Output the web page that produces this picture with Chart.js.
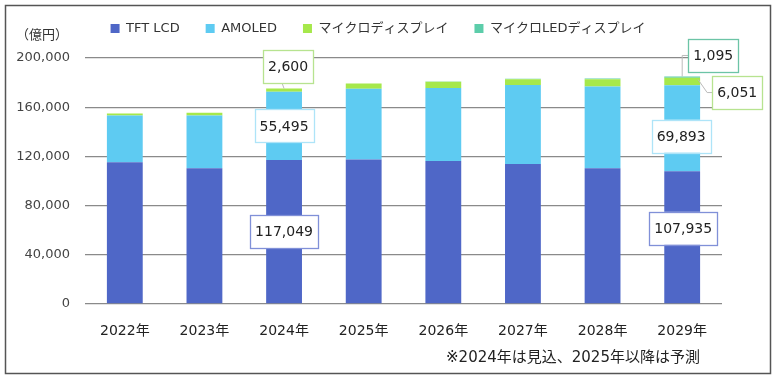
<!DOCTYPE html>
<html>
<head>
<meta charset="utf-8">
<script src="https://cdn.jsdelivr.net/npm/chart.js@4"></script>
<style>
  html, body { margin: 0; padding: 0; background: #fff; }
  #wrap { width: 780px; height: 380px; position: relative; }
</style>
</head>
<body>
<div id="wrap"><canvas id="c" width="780" height="380"></canvas></div>
<script>
const years = ['2022年', '2023年', '2024年', '2025年', '2026年', '2027年', '2028年', '2029年'];
const seriesNames = ['TFT LCD', 'AMOLED', 'マイクロディスプレイ', 'マイクロLEDディスプレイ'];
const tftLcd = [115200, 110400, 117049, 117400, 116300, 113900, 110400, 107935];
const amoled = [38100, 42900, 55495, 57700, 59400, 64200, 66400, 69893];
const microDisplay = [1600, 2100, 2600, 4100, 4900, 4600, 5900, 6051];
const microLed = [0, 0, 0, 100, 200, 400, 700, 1095];
const yTicks = [0, 40000, 80000, 120000, 160000, 200000];
const unitLabel = '（億円）';
const footNote = '※2024年は見込、2025年以降は予測';

const FONT = '"DejaVu Sans", "Noto Sans CJK JP", sans-serif';
const colors = ['#4f67c7', '#5ecbf2', '#a6e84b', '#5ccdaa'];
const labelBorders = ['#8090d8', '#aee4f8', '#b7e390', '#6cc4a6'];

// which segments get a value box: dataset, year index, placement
const callouts = [
  { ds: 0, i: 2, mode: 'mid', dx: 0, dy: 0 },
  { ds: 1, i: 2, mode: 'mid', dx: 0, dy: 0 },
  { ds: 2, i: 2, mode: 'top', dx: 4, dy: -22, leader: 'up' },
  { ds: 0, i: 7, mode: 'mid', dx: 1, dy: -9 },
  { ds: 1, i: 7, mode: 'mid', dx: -1, dy: 8 },
  { ds: 2, i: 7, mode: 'mid', dx: 55, dy: 11, leader: 'side' },
  { ds: 3, i: 7, mode: 'top', dx: 31, dy: -21, leader: 'elbow' }
];

const fmt = v => v.toLocaleString('en-US');

const extras = {
  id: 'extras',
  afterLayout(chart) {
    // nudge legend: centre it over the full frame and lift it a bit
    const lg = chart.legend;
    lg.left += 12; lg.right += 12;
    lg.top -= 13; lg.bottom -= 13;
  },
  beforeDraw(chart) {
    const ctx = chart.ctx;
    ctx.save();
    ctx.fillStyle = '#fff';
    ctx.fillRect(0, 0, chart.width, chart.height);
    ctx.restore();
  },
  afterDraw(chart) {
    const ctx = chart.ctx;
    const data = chart.data.datasets;
    ctx.save();
    // unit label and footnote
    ctx.fillStyle = '#333';
    ctx.font = '13px ' + FONT;
    ctx.textAlign = 'left';
    ctx.textBaseline = 'middle';
    ctx.fillText(unitLabel, 16, 36);
    ctx.font = '15px ' + FONT;
    ctx.fillStyle = '#222';
    ctx.textAlign = 'center';
    ctx.fillText(footNote, 573, 358);

    // value boxes
    ctx.font = '14px ' + FONT;
    callouts.forEach(c => {
      const el = chart.getDatasetMeta(c.ds).data[c.i];
      const v = data[c.ds].data[c.i];
      const txt = fmt(v);
      const w = ctx.measureText(txt).width + 10;
      const h = 33;
      const ay = c.mode === 'mid' ? (el.y + el.base) / 2 : el.y;
      const cx = el.x + c.dx, cy = ay + c.dy;
      const left = cx - w / 2, top = cy - h / 2;
      ctx.strokeStyle = '#bbb';
      ctx.lineWidth = 1;
      if (c.leader === 'up') {
        ctx.beginPath();
        ctx.moveTo(el.x, el.y);
        ctx.lineTo(cx - 6, top + h);
        ctx.stroke();
      } else if (c.leader === 'side') {
        ctx.beginPath();
        ctx.moveTo(el.x + el.width / 2 - 2, ay - 2);
        ctx.lineTo(left - 5, cy);
        ctx.lineTo(left, cy);
        ctx.stroke();
      } else if (c.leader === 'elbow') {
        ctx.beginPath();
        ctx.moveTo(el.x, el.y);
        ctx.lineTo(el.x, cy);
        ctx.lineTo(left, cy);
        ctx.stroke();
      }
      ctx.fillStyle = '#fff';
      ctx.fillRect(left, top, w, h);
      ctx.strokeStyle = labelBorders[c.ds];
      ctx.lineWidth = 1.3;
      ctx.strokeRect(Math.round(left) + 0.5, Math.round(top) + 0.5, Math.round(w), h);
      ctx.fillStyle = '#222';
      ctx.textAlign = 'center';
      ctx.textBaseline = 'middle';
      ctx.fillText(txt, cx, cy + 1);
    });

    // outer frame
    ctx.strokeStyle = '#555';
    ctx.lineWidth = 1.5;
    ctx.strokeRect(5.5, 5.5, 765, 368);
    ctx.restore();
  }
};

const seriesData = [tftLcd, amoled, microDisplay, microLed];

new Chart(document.getElementById('c'), {
  type: 'bar',
  data: {
    labels: years,
    datasets: seriesNames.map((name, k) => ({
      label: name,
      data: seriesData[k],
      backgroundColor: colors[k],
      borderWidth: 0,
      barPercentage: 0.45,
      categoryPercentage: 1.0
    }))
  },
  options: {
    responsive: false,
    animation: false,
    layout: { padding: { left: 10, right: 58, top: 9, bottom: 36 } },
    plugins: {
      legend: {
        position: 'top',
        labels: {
          boxWidth: 9,
          boxHeight: 9,
          padding: 26,
          color: '#333',
          font: { size: 13, family: FONT }
        }
      },
      tooltip: { enabled: false }
    },
    scales: {
      x: {
        stacked: true,
        grid: { display: false, drawTicks: false },
        border: { display: false },
        ticks: { color: '#222', padding: 19, font: { size: 14, family: FONT } },
        afterFit: s => { s.height = 40; }
      },
      y: {
        stacked: true,
        min: 0,
        max: 200000,
        afterBuildTicks: s => { s.ticks = yTicks.map(v => ({ value: v })); },
        grid: { color: '#8a8a8a', lineWidth: 1.3, drawTicks: false },
        border: { display: false },
        ticks: {
          color: '#444',
          padding: 15,
          font: { size: 13, family: FONT },
          callback: v => fmt(v)
        },
        afterFit: s => { s.width = 75; }
      }
    }
  },
  plugins: [extras]
});
</script>
</body>
</html>
